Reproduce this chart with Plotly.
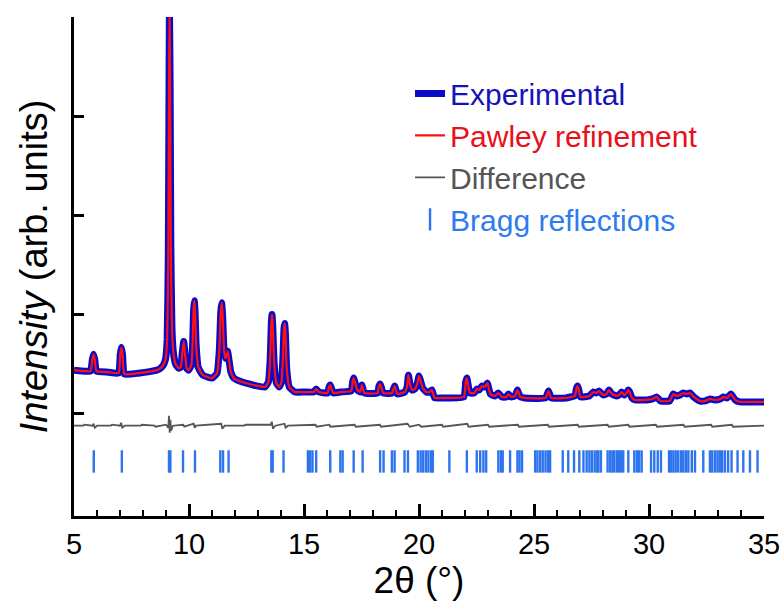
import plotly.graph_objects as go

# ---- Data ----
two_theta_exp = [
    5.00, 5.50, 5.72, 5.80, 5.85, 5.90, 5.98, 6.50, 6.94, 7.01, 7.06, 7.11, 7.19, 7.80,
    8.40, 8.70, 8.88, 8.98, 9.05, 9.10, 9.13, 9.15, 9.18, 9.21, 9.26, 9.33, 9.42, 9.55,
    9.64, 9.71, 9.77, 9.82, 9.90, 9.98, 10.10, 10.16, 10.20, 10.23, 10.26, 10.31, 10.40,
    10.60, 11.00, 11.22, 11.32, 11.38, 11.42, 11.46, 11.52, 11.58, 11.64, 11.68, 11.73,
    11.82, 11.95, 12.20, 12.80, 13.30, 13.45, 13.53, 13.58, 13.61, 13.64, 13.70, 13.80,
    13.92, 14.02, 14.09, 14.13, 14.16, 14.19, 14.25, 14.36, 14.60, 15.00, 15.42, 15.53,
    15.64, 16.02, 16.09, 16.14, 16.19, 16.27, 16.60, 17.05, 17.12, 17.16, 17.21, 17.32,
    17.44, 17.52, 17.62, 18.20, 18.26, 18.31, 18.36, 18.44, 18.82, 18.94, 19.06, 19.38,
    19.48, 19.54, 19.60, 19.70, 19.82, 19.92, 20.00, 20.06, 20.16, 20.32, 20.46, 20.56,
    20.68, 21.00, 21.95, 22.03, 22.08, 22.13, 22.22, 22.40, 22.51, 22.62, 22.73, 22.85,
    22.97, 23.10, 23.30, 23.45, 23.60, 23.80, 23.89, 24.00, 24.18, 24.28, 24.40, 24.60,
    25.50, 25.63, 25.75, 26.40, 26.60, 26.78, 26.84, 26.89, 26.94, 27.02, 27.40, 27.58,
    27.70, 27.83, 28.00, 28.15, 28.26, 28.38, 28.60, 28.70, 28.81, 28.93, 29.05, 29.10,
    29.16, 29.26, 29.40, 29.90, 30.15, 30.33, 30.50, 30.90, 31.06, 31.20, 31.35, 31.49,
    31.65, 31.78, 31.95, 32.20, 32.45, 32.65, 32.85, 33.10, 33.23, 33.40, 33.56, 33.75,
    33.95, 34.50, 35.00,
]
intensity_exp = [
    0.44, 0.43, 0.43, 0.55, 0.60, 0.55, 0.43, 0.42, 0.41, 0.60, 0.67, 0.60, 0.40, 0.41,
    0.43, 0.45, 0.49, 0.55, 0.75, 1.60, 3.20, 4.10, 3.30, 1.70, 0.85, 0.60, 0.50, 0.46,
    0.47, 0.62, 0.73, 0.62, 0.46, 0.44, 0.49, 0.72, 1.05, 1.14, 1.05, 0.70, 0.47,
    0.39, 0.36, 0.41, 0.65, 1.02, 1.12, 1.00, 0.66, 0.56, 0.59, 0.63, 0.56,
    0.42, 0.36, 0.33, 0.29, 0.27, 0.32, 0.55, 0.92, 1.00, 0.90, 0.52, 0.31,
    0.27, 0.32, 0.60, 0.86, 0.91, 0.82, 0.45, 0.27, 0.22, 0.22, 0.22, 0.25,
    0.22, 0.21, 0.27, 0.29, 0.26, 0.21, 0.22, 0.23, 0.33, 0.36, 0.32, 0.24,
    0.22, 0.29, 0.21, 0.21, 0.28, 0.30, 0.27, 0.21, 0.21, 0.28, 0.20, 0.22,
    0.27, 0.39, 0.31, 0.24, 0.25, 0.30, 0.38, 0.34, 0.26, 0.22, 0.22, 0.24,
    0.16, 0.16, 0.17, 0.32, 0.36, 0.30, 0.21, 0.21, 0.25, 0.24, 0.28, 0.27,
    0.31, 0.20, 0.18, 0.21, 0.17, 0.17, 0.20, 0.17, 0.18, 0.24, 0.17, 0.16,
    0.16, 0.23, 0.16, 0.16, 0.17, 0.18, 0.25, 0.28, 0.25, 0.17, 0.18, 0.22,
    0.21, 0.23, 0.19, 0.20, 0.24, 0.20, 0.18, 0.19, 0.22, 0.19, 0.22, 0.24,
    0.22, 0.16, 0.14, 0.14, 0.15, 0.17, 0.13, 0.13, 0.20, 0.18, 0.19, 0.21,
    0.20, 0.21, 0.17, 0.13, 0.13, 0.15, 0.14, 0.15, 0.17, 0.16, 0.20, 0.14,
    0.12, 0.12, 0.12,
]
# Pawley fit overlaps the experimental pattern at this scale
two_theta_calc = list(two_theta_exp)
intensity_calc = list(intensity_exp)

two_theta_diff = [
    5.00, 5.40, 5.45, 5.80, 5.85, 5.90, 6.00, 6.60, 6.65, 7.00, 7.05, 7.10, 7.20, 7.90,
    7.95, 8.50, 8.55, 9.00, 9.10, 9.13, 9.16, 9.19, 9.22, 9.30, 9.75, 9.80, 10.20, 10.25,
    10.30, 11.40, 11.45, 11.55, 12.40, 12.45, 13.55, 13.60, 13.65, 13.75, 14.15, 14.20,
    14.30, 15.50, 15.55, 16.10, 16.15, 17.20, 17.25, 18.30, 18.35, 19.50, 19.60, 20.00,
    20.10, 21.00, 21.05, 22.10, 22.15, 23.00, 23.05, 24.30, 24.35, 25.60, 25.65, 26.90,
    26.95, 28.20, 28.25, 29.10, 29.15, 30.30, 30.35, 31.50, 31.55, 32.70, 32.75, 33.60,
    33.65, 35.00,
]
intensity_diff = [
    -0.12, -0.12, -0.11, -0.12, -0.10, -0.14, -0.12, -0.12, -0.11, -0.12, -0.09, -0.14,
    -0.12, -0.12, -0.11, -0.12, -0.13, -0.11, -0.14, -0.02, -0.19, -0.06, -0.17, -0.12,
    -0.11, -0.13, -0.10, -0.14, -0.12, -0.10, -0.15, -0.12, -0.12, -0.11, -0.11, -0.08,
    -0.15, -0.12, -0.10, -0.14, -0.12, -0.11, -0.13, -0.11, -0.13, -0.11, -0.13, -0.11,
    -0.13, -0.10, -0.13, -0.11, -0.13, -0.11, -0.13, -0.10, -0.13, -0.11, -0.13, -0.11,
    -0.13, -0.11, -0.13, -0.11, -0.13, -0.11, -0.13, -0.11, -0.13, -0.11, -0.13, -0.11,
    -0.13, -0.11, -0.13, -0.11, -0.13, -0.12,
]

bragg_positions = [
    5.86, 7.08, 9.13, 9.19, 9.74, 10.26, 11.36, 11.48, 11.72,
    13.58, 13.64, 14.11, 15.17, 15.27, 15.37, 15.53, 16.14, 16.58, 16.68, 17.16, 17.55,
    18.31, 18.46, 18.82, 18.94, 19.37, 19.52, 19.95, 20.07, 20.18, 20.30, 20.41, 20.53,
    20.60, 21.32, 22.08, 22.51, 22.66, 22.80, 22.92, 23.45, 23.56, 23.64, 23.96, 24.28,
    24.37, 24.48, 25.05, 25.15, 25.27, 25.38, 25.50, 25.61, 25.70, 26.25, 26.49, 26.74,
    26.97, 27.15, 27.29, 27.41, 27.52, 27.64, 27.75,
    27.80, 27.91, 28.20, 28.31, 28.41, 28.49, 28.60, 28.70, 28.78, 28.88, 29.10, 29.36,
    29.47, 29.57, 29.68, 30.09, 30.23, 30.38, 30.52, 30.87, 30.96, 31.06, 31.16, 31.27,
    31.39, 31.49, 31.60, 31.71, 31.86, 32.00, 32.36, 32.65, 32.75, 32.87, 32.98, 33.08,
    33.18, 33.30, 33.44, 33.59, 33.85, 34.10, 34.39, 34.72,
]
bragg_level = -0.48

x_tick_values = [5, 10, 15, 20, 25, 30, 35]
y_tick_values = [0, 1, 2, 3, 4]

series_names = ["Experimental", "Pawley refinement", "Difference", "Bragg reflections"]
legend_text_colors = ["#1414B8", "#E8101A", "#555555", "#2E7BEF"]

FONT = "Liberation Sans, Arial, sans-serif"

fig = go.Figure()
fig.add_trace(go.Scatter(
    x=two_theta_exp, y=intensity_exp, mode="lines",
    name=f"<span style='color:{legend_text_colors[0]}'>{series_names[0]}</span>",
    line=dict(color="#0A0AC8", width=7, shape="spline", smoothing=0.4),
))
fig.add_trace(go.Scatter(
    x=two_theta_calc, y=intensity_calc, mode="lines",
    name=f"<span style='color:{legend_text_colors[1]}'>{series_names[1]}</span>",
    line=dict(color="#FF1010", width=2.2, shape="spline", smoothing=0.4),
))
fig.add_trace(go.Scatter(
    x=two_theta_diff, y=intensity_diff, mode="lines",
    name=f"<span style='color:{legend_text_colors[2]}'>{series_names[2]}</span>",
    line=dict(color="#555555", width=1.8),
))
fig.add_trace(go.Scatter(
    x=bragg_positions, y=[bragg_level] * len(bragg_positions), mode="markers",
    name=f"<span style='color:{legend_text_colors[3]}'>{series_names[3]}</span>",
    marker=dict(symbol="line-ns", size=16, color="#2E74EE",
                line=dict(color="#2E74EE", width=2.4)),
))

fig.update_layout(
    width=780, height=602,
    margin=dict(l=74, r=16, t=17, b=86, autoexpand=False),
    paper_bgcolor="white", plot_bgcolor="white",
    font=dict(family=FONT, color="black"),
    showlegend=True,
    legend=dict(
        x=0.487, y=0.899, xanchor="left", yanchor="top",
        font=dict(family=FONT, size=30),
        bgcolor="rgba(0,0,0,0)", borderwidth=0,
    ),
    xaxis=dict(
        range=[5, 35], tickvals=x_tick_values, ticktext=[str(v) for v in x_tick_values],
        ticks="inside", ticklen=12, tickwidth=2.5, tickcolor="black",
        minor=dict(ticks="inside", dtick=1, ticklen=6, tickwidth=2, tickcolor="black"),
        showline=True, linewidth=3, linecolor="black", mirror=False,
        showgrid=False, zeroline=False, automargin=False,
        ticklabeloverflow="allow",
        tickfont=dict(family=FONT, size=29, color="black"),
        title=dict(text="2θ (°)", font=dict(family=FONT, size=37, color="black"), standoff=9),
    ),
    yaxis=dict(
        range=[-1.03, 4.0], tickvals=y_tick_values, showticklabels=False,
        ticks="inside", ticklen=10, tickwidth=2.5, tickcolor="black",
        showline=True, linewidth=3, linecolor="black", mirror=False,
        showgrid=False, zeroline=False, automargin=False,
        title=dict(text="<i>Intensity</i> (arb. units)",
                   font=dict(family=FONT, size=38, color="black"), standoff=12),
    ),
)

# remove the browser's default 8 px body margin so the figure fills the window exactly
fig.write_html(
    "out.html",
    config={"displayModeBar": False},
    post_script="document.body.style.margin='0px';document.body.style.overflow='hidden';",
)
